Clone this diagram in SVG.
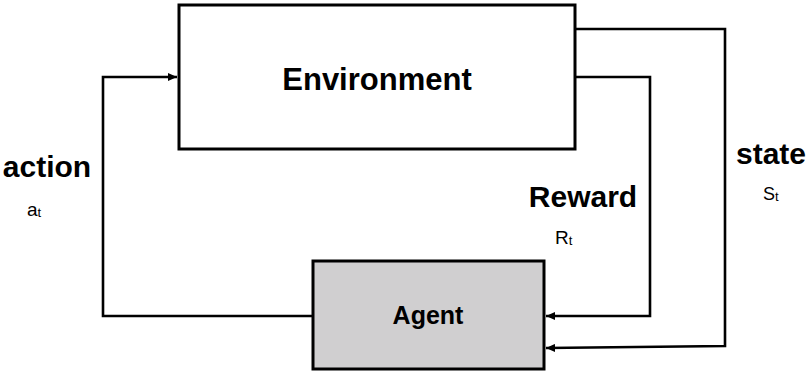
<svg xmlns="http://www.w3.org/2000/svg" width="806" height="372" viewBox="0 0 806 372">
  <style>
    .box { stroke: #000; stroke-width: 3; }
    .link { fill: none; stroke: #000; stroke-width: 2.6; stroke-linejoin: miter; }
    .title { font-family: "Liberation Sans", Arial, sans-serif; font-weight: bold; fill: #000; text-anchor: middle; }
    .sym { font-family: "Liberation Sans", Arial, sans-serif; fill: #000; }
    .sub { font-size: 13px; }
  </style>
  <defs>
    <marker id="arrow" markerUnits="userSpaceOnUse" markerWidth="9" markerHeight="8" refX="9" refY="4" orient="auto">
      <path d="M0,0 L9,4 L0,8 Z" fill="#000"/>
    </marker>
  </defs>

  <rect width="806" height="372" fill="#fff"/>

  <!-- connectors -->
  <g id="connectors">
    <path class="link" d="M313,316 H103 V77 H177" marker-end="url(#arrow)"/>
    <path class="link" d="M575,77 H650 V316 H546" marker-end="url(#arrow)"/>
    <path class="link" d="M575,29 H725 V346 L546,348" marker-end="url(#arrow)"/>
  </g>

  <!-- nodes -->
  <g id="environment">
    <rect class="box" x="179" y="5" width="396" height="144" fill="#fff"/>
    <text class="title" x="377" y="90" font-size="31">Environment</text>
  </g>
  <g id="agent">
    <rect class="box" x="313" y="261" width="231" height="108" fill="#d0cfd0"/>
    <text class="title" x="428" y="324" font-size="25">Agent</text>
  </g>

  <!-- labels -->
  <g id="labels">
    <text class="title" x="47" y="177" font-size="30">action</text>
    <text class="sym" x="27" y="216" font-size="19">a<tspan class="sub" dy="1">t</tspan></text>

    <text class="title" x="583" y="207" font-size="30">Reward</text>
    <text class="sym" x="555" y="244" font-size="19">R<tspan class="sub" dy="1">t</tspan></text>

    <text class="title" x="771" y="164" font-size="30">state</text>
    <text class="sym" x="763" y="200" font-size="18">S<tspan class="sub" dy="1">t</tspan></text>
  </g>
</svg>
